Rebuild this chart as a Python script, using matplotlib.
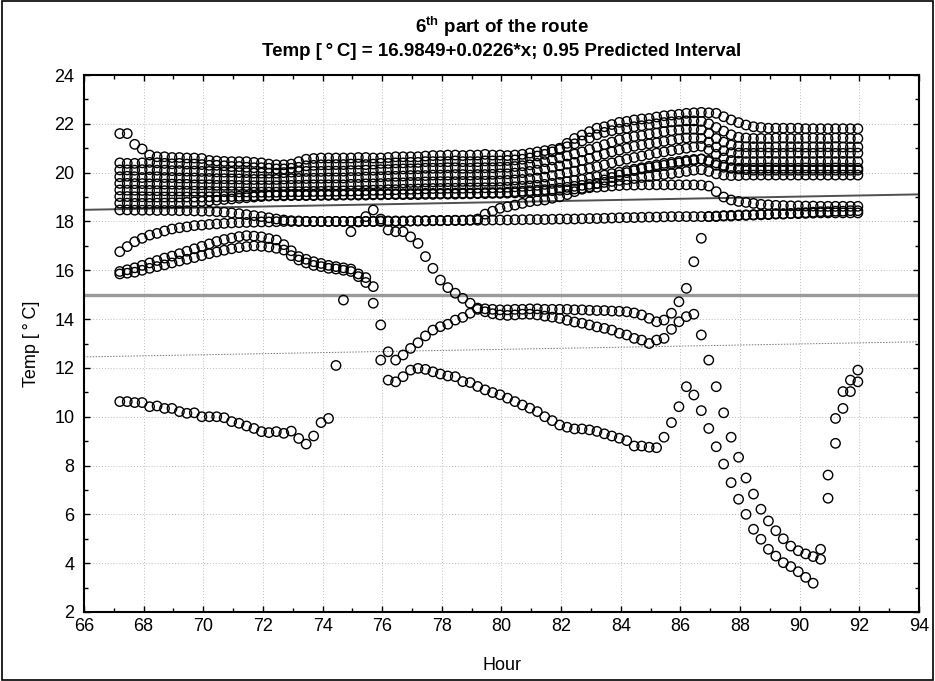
import numpy as np
import matplotlib
matplotlib.use("Agg")
import matplotlib.pyplot as plt
from matplotlib.patches import Rectangle
from matplotlib.ticker import MultipleLocator

plt.rcParams['font.family'] = ['Liberation Sans', 'DejaVu Sans']
plt.rcParams['mathtext.fontset'] = 'custom'
plt.rcParams['mathtext.rm'] = 'Liberation Sans:bold'

# sample times (hour), one reading every 15 min
hours = [67.20, 67.45, 67.70, 67.95, 68.20, 68.45, 68.70, 68.95, 69.20, 69.45,
         69.70, 69.95, 70.20, 70.45, 70.70, 70.95, 71.20, 71.45, 71.70, 71.95,
         72.20, 72.45, 72.70, 72.95, 73.20, 73.45, 73.70, 73.95, 74.20, 74.45,
         74.70, 74.95, 75.20, 75.45, 75.70, 75.95, 76.20, 76.45, 76.70, 76.95,
         77.20, 77.45, 77.70, 77.95, 78.20, 78.45, 78.70, 78.95, 79.20, 79.45,
         79.70, 79.95, 80.20, 80.45, 80.70, 80.95, 81.20, 81.45, 81.70, 81.95,
         82.20, 82.45, 82.70, 82.95, 83.20, 83.45, 83.70, 83.95, 84.20, 84.45,
         84.70, 84.95, 85.20, 85.45, 85.70, 85.95, 86.20, 86.45, 86.70, 86.95,
         87.20, 87.45, 87.70, 87.95, 88.20, 88.45, 88.70, 88.95, 89.20, 89.45,
         89.70, 89.95, 90.20, 90.45, 90.70, 90.95, 91.20, 91.45, 91.70, 91.95]

# temperature of each sensor [deg C]
t_top = [21.60, 21.60, 21.16, 20.97, 20.72, 20.65, 20.65, 20.62, 20.62, 20.60,
         20.60, 20.58, 20.50, 20.48, 20.46, 20.45, 20.45, 20.45, 20.42, 20.40,
         20.35, 20.32, 20.32, 20.35, 20.45, 20.55, 20.58, 20.60, 20.60, 20.60,
         20.60, 20.60, 20.62, 20.62, 20.60, 20.60, 20.62, 20.65, 20.65, 20.65,
         20.65, 20.68, 20.70, 20.70, 20.72, 20.72, 20.70, 20.72, 20.72, 20.75,
         20.72, 20.72, 20.70, 20.72, 20.75, 20.80, 20.85, 20.90, 20.95, 21.00,
         21.20, 21.40, 21.54, 21.68, 21.82, 21.88, 21.97, 22.06, 22.10, 22.16,
         22.20, 22.22, 22.28, 22.33, 22.36, 22.39, 22.43, 22.45, 22.47, 22.45,
         22.43, 22.29, 22.16, 22.05, 21.95, 21.88, 21.85, 21.82, 21.82, 21.82,
         21.82, 21.82, 21.80, 21.80, 21.80, 21.80, 21.80, 21.80, 21.80, 21.80]
t_b1 = [20.40, 20.38, 20.38, 20.40, 20.42, 20.40, 20.38, 20.36, 20.38, 20.35,
        20.35, 20.33, 20.30, 20.30, 20.28, 20.25, 20.25, 20.22, 20.20, 20.20,
        20.18, 20.15, 20.15, 20.18, 20.22, 20.28, 20.30, 20.32, 20.32, 20.33,
        20.33, 20.35, 20.35, 20.33, 20.35, 20.38, 20.38, 20.40, 20.40, 20.42,
        20.42, 20.45, 20.45, 20.45, 20.45, 20.48, 20.45, 20.45, 20.45, 20.48,
        20.48, 20.48, 20.50, 20.52, 20.55, 20.60, 20.68, 20.75, 20.85, 20.95,
        21.06, 21.18, 21.30, 21.42, 21.55, 21.65, 21.72, 21.78, 21.82, 21.88,
        21.92, 21.96, 22.00, 22.05, 22.08, 22.10, 22.12, 22.12, 22.10, 22.00,
        21.85, 21.70, 21.55, 21.45, 21.42, 21.40, 21.40, 21.40, 21.42, 21.42,
        21.40, 21.40, 21.42, 21.42, 21.40, 21.40, 21.42, 21.42, 21.40, 21.40]
t_b2 = [20.11, 20.11, 20.10, 20.12, 20.12, 20.10, 20.10, 20.08, 20.08, 20.06,
        20.06, 20.05, 20.05, 20.03, 20.02, 20.02, 20.00, 20.00, 19.98, 19.98,
        19.98, 19.98, 20.00, 20.02, 20.04, 20.05, 20.05, 20.05, 20.06, 20.06,
        20.06, 20.08, 20.08, 20.10, 20.10, 20.12, 20.12, 20.14, 20.15, 20.15,
        20.16, 20.18, 20.18, 20.18, 20.20, 20.20, 20.18, 20.18, 20.20, 20.20,
        20.20, 20.22, 20.22, 20.25, 20.28, 20.32, 20.38, 20.45, 20.52, 20.60,
        20.68, 20.76, 20.85, 20.95, 21.05, 21.15, 21.25, 21.35, 21.42, 21.48,
        21.52, 21.58, 21.62, 21.68, 21.72, 21.75, 21.78, 21.78, 21.75, 21.60,
        21.40, 21.25, 21.13, 21.08, 21.06, 21.06, 21.06, 21.05, 21.05, 21.06,
        21.06, 21.06, 21.05, 21.05, 21.06, 21.06, 21.06, 21.05, 21.05, 21.05]
t_b3 = [19.83, 19.85, 19.83, 19.80, 19.82, 19.83, 19.80, 19.80, 19.78, 19.78,
        19.78, 19.76, 19.76, 19.75, 19.75, 19.74, 19.74, 19.72, 19.72, 19.72,
        19.72, 19.72, 19.74, 19.75, 19.76, 19.76, 19.77, 19.77, 19.78, 19.78,
        19.78, 19.80, 19.80, 19.82, 19.82, 19.83, 19.85, 19.85, 19.86, 19.88,
        19.88, 19.88, 19.90, 19.90, 19.90, 19.92, 19.92, 19.90, 19.92, 19.92,
        19.93, 19.95, 19.95, 19.98, 20.00, 20.05, 20.10, 20.15, 20.22, 20.28,
        20.35, 20.42, 20.50, 20.58, 20.68, 20.76, 20.85, 20.92, 21.00, 21.08,
        21.13, 21.18, 21.22, 21.28, 21.32, 21.38, 21.42, 21.42, 21.40, 21.25,
        21.05, 20.90, 20.82, 20.80, 20.79, 20.79, 20.80, 20.80, 20.79, 20.79,
        20.80, 20.80, 20.79, 20.79, 20.80, 20.80, 20.79, 20.79, 20.80, 20.80]
t_b4 = [19.56, 19.56, 19.55, 19.55, 19.54, 19.54, 19.53, 19.53, 19.52, 19.52,
        19.50, 19.50, 19.50, 19.48, 19.48, 19.48, 19.47, 19.47, 19.46, 19.46,
        19.46, 19.46, 19.47, 19.48, 19.48, 19.49, 19.50, 19.50, 19.50, 19.50,
        19.50, 19.52, 19.52, 19.54, 19.54, 19.55, 19.56, 19.58, 19.58, 19.60,
        19.60, 19.62, 19.62, 19.63, 19.63, 19.63, 19.64, 19.64, 19.64, 19.65,
        19.65, 19.66, 19.68, 19.70, 19.72, 19.75, 19.78, 19.82, 19.88, 19.93,
        20.00, 20.06, 20.12, 20.18, 20.25, 20.32, 20.40, 20.48, 20.55, 20.62,
        20.68, 20.74, 20.80, 20.85, 20.90, 20.95, 21.00, 21.05, 21.08, 20.95,
        20.75, 20.60, 20.50, 20.47, 20.45, 20.45, 20.45, 20.46, 20.45, 20.45,
        20.45, 20.46, 20.45, 20.45, 20.46, 20.45, 20.45, 20.46, 20.45, 20.45]
t_b5 = [19.29, 19.28, 19.28, 19.27, 19.27, 19.26, 19.26, 19.25, 19.25, 19.24,
        19.24, 19.23, 19.23, 19.22, 19.22, 19.22, 19.21, 19.21, 19.20, 19.20,
        19.20, 19.20, 19.21, 19.22, 19.22, 19.22, 19.23, 19.23, 19.24, 19.24,
        19.25, 19.25, 19.26, 19.27, 19.28, 19.28, 19.30, 19.30, 19.32, 19.32,
        19.33, 19.34, 19.35, 19.35, 19.36, 19.36, 19.36, 19.37, 19.37, 19.38,
        19.38, 19.39, 19.40, 19.42, 19.44, 19.46, 19.48, 19.52, 19.56, 19.60,
        19.63, 19.68, 19.72, 19.78, 19.84, 19.90, 19.96, 20.02, 20.08, 20.14,
        20.20, 20.26, 20.32, 20.38, 20.42, 20.46, 20.50, 20.54, 20.56, 20.45,
        20.30, 20.22, 20.18, 20.18, 20.18, 20.18, 20.18, 20.19, 20.18, 20.18,
        20.18, 20.18, 20.19, 20.18, 20.18, 20.18, 20.19, 20.18, 20.18, 20.18]
t_b6 = [19.02, 19.02, 19.01, 19.01, 19.00, 19.00, 19.00, 19.00, 19.00, 19.00,
        19.00, 19.00, 19.01, 19.01, 19.02, 19.02, 19.03, 19.04, 19.05, 19.06,
        19.06, 19.07, 19.08, 19.08, 19.08, 19.08, 19.08, 19.09, 19.09, 19.10,
        19.10, 19.10, 19.11, 19.11, 19.12, 19.12, 19.12, 19.13, 19.13, 19.14,
        19.14, 19.15, 19.15, 19.15, 19.15, 19.16, 19.16, 19.16, 19.16, 19.18,
        19.18, 19.18, 19.20, 19.22, 19.24, 19.26, 19.28, 19.30, 19.32, 19.36,
        19.40, 19.44, 19.48, 19.52, 19.56, 19.60, 19.64, 19.68, 19.72, 19.76,
        19.80, 19.84, 19.88, 19.92, 19.96, 20.00, 20.05, 20.10, 20.12, 20.05,
        19.95, 19.90, 19.88, 19.88, 19.90, 19.90, 19.90, 19.90, 19.90, 19.90,
        19.90, 19.90, 19.90, 19.90, 19.90, 19.90, 19.90, 19.90, 19.90, 19.90]
t_b7 = [18.75, 18.75, 18.74, 18.74, 18.74, 18.75, 18.75, 18.76, 18.76, 18.78,
        18.80, 18.82, 18.84, 18.87, 18.90, 18.92, 18.95, 18.97, 19.00, 19.02,
        19.04, 19.05, 19.05, 19.06, 19.06, 19.06, 19.06, 19.07, 19.07, 19.07,
        19.08, 19.08, 19.08, 19.08, 19.09, 19.09, 19.10, 19.10, 19.10, 19.10,
        19.10, 19.11, 19.11, 19.12, 19.12, 19.12, 19.13, 19.13, 19.14, 19.14,
        19.15, 19.15, 19.16, 19.17, 19.18, 19.20, 19.22, 19.24, 19.26, 19.28,
        19.30, 19.33, 19.36, 19.38, 19.40, 19.42, 19.45, 19.47, 19.49, 19.49,
        19.50, 19.50, 19.50, 19.50, 19.50, 19.50, 19.50, 19.50, 19.49, 19.45,
        19.22, 19.00, 18.88, 18.82, 18.78, 18.74, 18.70, 18.68, 18.66, 18.65,
        18.64, 18.64, 18.63, 18.63, 18.62, 18.62, 18.62, 18.62, 18.62, 18.62]
t_b9 = [18.47, 18.47, 18.46, 18.46, 18.46, 18.45, 18.45, 18.45, 18.44, 18.44,
        18.43, 18.42, 18.42, 18.40, 18.38, 18.35, 18.32, 18.28, 18.24, 18.20,
        18.15, 18.10, 18.06, 18.03, 18.02, 18.00, 18.00, 18.00, 18.00, 18.00,
        18.00, 18.00, 17.98, 18.00, 18.00, 18.00, 18.00, 18.00, 18.00, 18.02,
        18.02, 18.02, 18.03, 18.03, 18.04, 18.04, 18.04, 18.05, 18.05, 18.05,
        18.06, 18.06, 18.06, 18.07, 18.07, 18.08, 18.08, 18.08, 18.09, 18.10,
        18.10, 18.10, 18.11, 18.12, 18.12, 18.13, 18.14, 18.15, 18.16, 18.16,
        18.17, 18.18, 18.18, 18.19, 18.20, 18.20, 18.20, 18.20, 18.20, 18.20,
        18.20, 18.22, 18.22, 18.24, 18.25, 18.26, 18.27, 18.28, 18.30, 18.30,
        18.32, 18.32, 18.33, 18.34, 18.35, 18.35, 18.35, 18.35, 18.35, 18.35]
t_rise = [16.76, 16.97, 17.17, 17.31, 17.44, 17.51, 17.61, 17.69, 17.74, 17.78,
          17.83, 17.85, 17.88, 17.90, 17.92, 17.94, 17.95, 17.96, 17.97, 17.98,
          17.98, 17.99, 18.00, 18.00, 18.00, 18.00, 18.00, 18.00, 18.00, 18.00,
          18.00, 18.00, 18.00, 18.00, 18.00, 18.02, 18.02, 18.02, 18.02, 18.02,
          18.03, 18.03, 18.04, 18.04, 18.04, 18.05, 18.05, 18.06, 18.10, 18.30,
          18.42, 18.54, 18.60, 18.67, 18.74, 18.81, 18.85, 18.88, 18.95, 19.01,
          19.10, 19.22, 19.32, 19.42, 19.55, 19.70, 19.80, 19.90, 20.00, 20.08,
          20.15, 20.20, 20.25, 20.30, 20.35, 20.40, 20.45, 20.50, 20.55, 20.50,
          20.40, 20.30, 20.20, 20.15, 20.12, 20.10, 20.10, 20.10, 20.10, 20.10,
          20.10, 20.10, 20.10, 20.10, 20.10, 20.10, 20.10, 20.10, 20.10, 20.10]
t_low = [10.62, 10.62, 10.58, 10.58, 10.41, 10.44, 10.34, 10.34, 10.21, 10.14,
         10.16, 10.00, 10.00, 10.00, 9.96, 9.80, 9.73, 9.62, 9.52, 9.39,
         9.35, 9.39, 9.32, 9.41, 9.11, 8.88, 9.21, 9.76, 9.93, 12.10,
         14.78, 17.58, 18.00, 18.20, 18.47, 18.10, 17.65, 17.58, 17.58, 17.37,
         17.10, 16.56, 16.08, 15.60, 15.29, 15.06, 14.85, 14.65, 14.45, 14.42,
         14.40, 14.38, 14.38, 14.40, 14.40, 14.42, 14.42, 14.40, 14.40, 14.40,
         14.40, 14.38, 14.38, 14.36, 14.35, 14.35, 14.33, 14.32, 14.30, 14.25,
         14.17, 14.03, 13.89, 13.96, 14.24, 14.71, 15.26, 16.35, 17.31, 18.20,
         18.22, 18.24, 18.25, 18.26, 18.27, 18.28, 18.30, 18.30, 18.32, 18.32,
         18.33, 18.35, 18.36, 18.38, 18.40, 18.40, 18.42, 18.42, 18.44, 18.44]
t_arc1 = [15.95, 16.02, 16.10, 16.20, 16.30, 16.40, 16.50, 16.58, 16.68, 16.78,
          16.88, 16.98, 17.08, 17.18, 17.26, 17.32, 17.38, 17.42, 17.40, 17.37,
          17.30, 17.24, 17.05, 16.80, 16.56, 16.45, 16.35, 16.28, 16.20, 16.15,
          16.10, 16.05, 15.85, 15.70, 15.33, 13.76, 12.66, 12.32, 12.53, 12.80,
          13.03, 13.31, 13.55, 13.69, 13.79, 13.96, 14.07, 14.24, 14.40, 14.30,
          14.22, 14.17, 14.15, 14.17, 14.20, 14.20, 14.17, 14.12, 14.08, 14.03,
          13.95, 13.88, 13.83, 13.76, 13.68, 13.62, 13.55, 13.42, 13.35, 13.21,
          13.14, 13.00, 13.14, 13.21, 13.58, 13.89, 14.10, 14.20, 13.35, 12.32,
          11.23, 10.16, 9.16, 8.34, 7.49, 6.83, 6.21, 5.73, 5.33, 5.00,
          4.70, 4.51, 4.38, 4.27, 4.57, 7.61, 9.93, 11.03, 11.50, 11.91]
t_arc2 = [15.85, 15.88, 15.92, 16.00, 16.08, 16.15, 16.22, 16.30, 16.38, 16.45,
          16.52, 16.60, 16.68, 16.75, 16.82, 16.88, 16.93, 16.97, 17.00, 16.98,
          16.95, 16.90, 16.83, 16.60, 16.42, 16.30, 16.20, 16.15, 16.08, 16.05,
          16.00, 15.95, 15.74, 15.50, 14.65, 12.32, 11.50, 11.43, 11.64, 11.91,
          11.98, 11.94, 11.84, 11.75, 11.67, 11.64, 11.44, 11.40, 11.24, 11.10,
          10.99, 10.90, 10.76, 10.62, 10.48, 10.35, 10.21, 10.00, 9.84, 9.66,
          9.57, 9.50, 9.50, 9.46, 9.40, 9.30, 9.21, 9.12, 9.02, 8.80,
          8.80, 8.75, 8.73, 9.16, 9.76, 10.41, 11.23, 10.89, 10.25, 9.52,
          8.77, 8.06, 7.30, 6.62, 6.00, 5.39, 4.98, 4.57, 4.29, 4.02,
          3.86, 3.65, 3.42, 3.18, 4.16, 6.66, 8.91, 10.34, 11.03, 11.43]

sensors = [t_top, t_b1, t_b2, t_b3, t_b4, t_b5, t_b6, t_b7, t_b9,
           t_rise, t_low, t_arc1, t_arc2]

# fit from the title, lower 0.95 prediction limit read at the axis ends
b0, b1 = 16.9849, 0.0226
fit_hours = [66, 94]
lower_limit = [12.45, 13.07]
ref_level = 15.0

fig = plt.figure(figsize=(9.35, 6.81), dpi=100)
ax = fig.add_axes([84 / 935, 1 - 612 / 681, 835 / 935, 537 / 681])

ax.axhline(ref_level, color='#9a9a9a', lw=2.4, zorder=2)
ax.plot(fit_hours, [b0 + b1 * h for h in fit_hours], color='#505050', lw=1.4, zorder=2)
ax.plot(fit_hours, lower_limit, color='#777777', lw=0.7, ls=(0, (1.5, 1.5)), zorder=2)

for vals in sensors:
    ax.scatter(hours, vals, s=46, marker='o', facecolors='none',
               edgecolors='black', linewidths=1.0, zorder=3)

ax.set_xlim(66, 94)
ax.set_ylim(2, 24)
ax.xaxis.set_major_locator(MultipleLocator(2))
ax.xaxis.set_minor_locator(MultipleLocator(1))
ax.yaxis.set_major_locator(MultipleLocator(2))
ax.yaxis.set_minor_locator(MultipleLocator(1))
ax.tick_params(which='both', direction='in', top=True, right=True,
               labelsize=13, pad=7)
ax.tick_params(axis='x', pad=4)
ax.tick_params(which='major', length=4, width=1)
ax.tick_params(which='minor', length=3, width=1)
ax.grid(True, which='major', color='#bbbbbb', ls=(0, (1, 2)), lw=0.7)
for sp in ax.spines.values():
    sp.set_linewidth(1.5)

ax.set_xlabel('Hour', fontsize=13, labelpad=16)
ax.set_ylabel('Temp [\u2009\u00b0\u2009C]', fontsize=13, labelpad=10)
ax.set_title('6$^{\\mathrm{th}}$ part of the route\n'
             'Temp [\u2009\u00b0\u2009C] = 16.9849+0.0226*x; 0.95 Predicted Interval',
             fontweight='bold', fontsize=13.5, linespacing=1.25, pad=14)

fig.patches.append(Rectangle((0.002, 0.002), 0.996, 0.996, transform=fig.transFigure,
                             fill=False, edgecolor='black', lw=1.2))

fig.savefig('out.png', dpi=100)
